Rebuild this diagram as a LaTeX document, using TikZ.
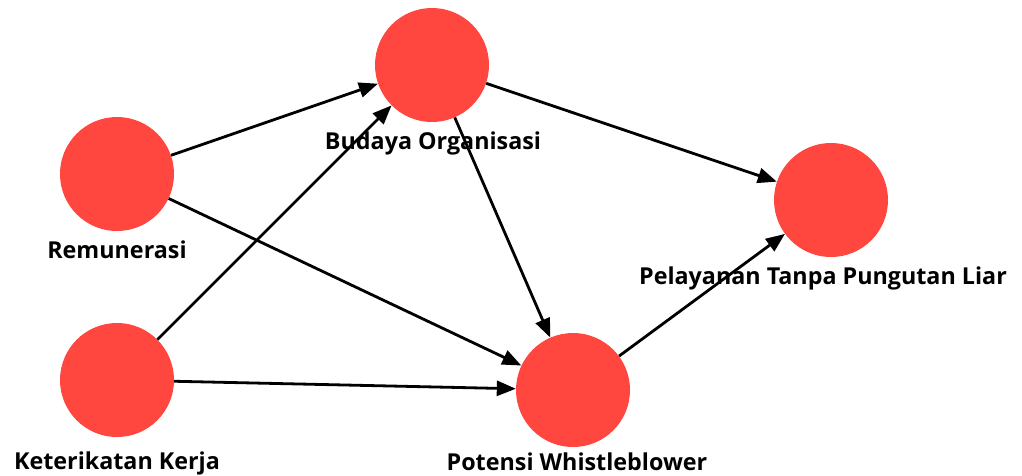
\documentclass[tikz,border=0pt]{standalone}
\usepackage{fontspec}
\setmainfont{Open Sans}
\usepackage{xcolor}
\usetikzlibrary{arrows.meta}
\definecolor{nodered}{HTML}{FF4740}

\begin{document}
\begin{tikzpicture}[x=1pt,y=-1pt,
    var/.style={circle, fill=nodered, minimum size=114pt, inner sep=0pt},
    lbl/.style={font=\fontsize{23.3}{27}\selectfont\bfseries, inner sep=0pt},
    path/.style={line width=2.8pt, -{Triangle[length=19pt,width=15pt]}}]

\useasboundingbox (0,0) rectangle (1022,475);

% Variables
\node[var] (bud) at (432,65) {};
\node[var] (rem) at (117,174) {};
\node[var] (ket) at (117,380) {};
\node[var] (pot) at (573,390) {};
\node[var] (pel) at (831,200) {};

% Labels
\node[lbl] (budl) at (433,143) {Budaya Organisasi};
\node[lbl] (reml) at (117,250) {Remunerasi};
\node[lbl] (ketl) at (117,463) {Keterikatan Kerja};
\node[lbl] (potl) at (577,462) {Potensi Whistleblower};
\node[lbl] (pell) at (823,278) {Pelayanan Tanpa Pungutan Liar};

% Paths
\draw[path] (rem) -- (bud);
\draw[path] (rem) -- (pot);
\draw[path] (ket) -- (bud);
\draw[path] (ket) -- (pot);
\draw[path] (bud) -- (pel);
\draw[path] (bud) -- (pot);
\draw[path] (pot) -- (pel);

\end{tikzpicture}
\end{document}
